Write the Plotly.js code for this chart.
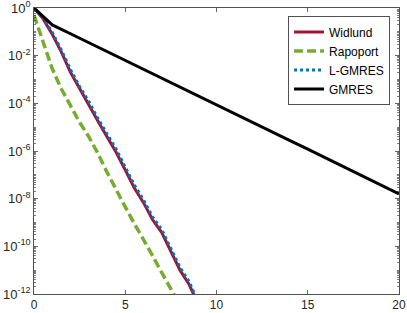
<!DOCTYPE html>
<html>
<head>
<meta charset="utf-8">
<script src="https://cdn.plot.ly/plotly-3.0.1.min.js"></script>
<style>
html,body{margin:0;padding:0;background:#fff;}
#chart{width:407px;height:313px;}
</style>
</head>
<body>
<div id="chart"></div>
<script>
// ---- data ----
var seriesNames = ["Widlund", "Rapoport", "L-GMRES", "GMRES"];

var widlundX = [0, 0.5, 1, 1.5, 2, 2.5, 3, 3.5, 4, 4.5, 5, 5.5, 6, 6.5, 7, 7.5, 8, 8.5, 8.8];
var widlundY = [1, 3.5e-1, 7.9e-2, 1.4e-2, 2.0e-3, 4.0e-4, 8.9e-5, 1.8e-5, 4.0e-6, 8.9e-7, 1.6e-7, 2.8e-8, 6.8e-9, 1.3e-9, 3.8e-10, 6.3e-11, 1.0e-11, 2.5e-12, 8.0e-13];

var rapoportX = [0, 0.5, 1, 1.5, 2, 2.5, 3, 3.5, 4, 4.5, 5, 5.5, 6, 6.5, 7, 7.5, 7.8];
var rapoportY = [5.0e-1, 4.0e-2, 2.8e-3, 4.0e-4, 7.9e-5, 1.6e-5, 4.0e-6, 7.9e-7, 1.3e-7, 2.2e-8, 4.5e-9, 8.9e-10, 2.0e-10, 4.0e-11, 7.9e-12, 1.6e-12, 6.3e-13];

var lgmresX = [0, 0.5, 1, 1.5, 2, 2.5, 3, 3.5, 4, 4.5, 5, 5.5, 6, 6.5, 7, 7.5, 8, 8.5, 8.85];
var lgmresY = [1, 3.8e-1, 9.5e-2, 1.7e-2, 2.6e-3, 5.0e-4, 1.2e-4, 2.3e-5, 5.2e-6, 1.2e-6, 2.1e-7, 3.7e-8, 8.9e-9, 1.7e-9, 5.0e-10, 8.3e-11, 1.3e-11, 3.3e-12, 8.0e-13];

var gmresX = [0, 1, 2, 3, 4, 5, 6, 7, 8, 9, 10, 11, 12, 13, 14, 15, 16, 17, 18, 19, 20];
var gmresY = [1, 1.95e-1, 8.3e-2, 3.5e-2, 1.48e-2, 6.3e-3, 2.7e-3, 1.12e-3, 4.8e-4, 2.0e-4, 8.5e-5, 3.6e-5, 1.5e-5, 6.6e-6, 2.8e-6, 1.2e-6, 5.0e-7, 2.1e-7, 9.0e-8, 3.8e-8, 1.6e-8];

var xTickVals = [0, 5, 10, 15, 20];
var yTickExps = [0, -2, -4, -6, -8, -10, -12];

// ---- build ----
var yTickVals = yTickExps.map(function(e){ return Math.pow(10, e); });
var yTickText = yTickExps.map(function(e){ return "10<sup>" + (e < 0 ? "-" + (-e) : e) + "</sup>"; });

var minorVals = [];
for (var d = -12; d < 0; d++) {
  for (var m = 1; m <= 9; m++) {
    if (m === 1 && d % 2 === 0) continue;
    minorVals.push(m * Math.pow(10, d));
  }
}

var axisColor = "#262626";
var traces = [
  {x: widlundX, y: widlundY, name: seriesNames[0], mode: "lines",
   line: {color: "#A2142F", width: 3}},
  {x: rapoportX, y: rapoportY, name: seriesNames[1], mode: "lines",
   line: {color: "#77AC30", width: 3.5, dash: "9px,4px"}},
  {x: lgmresX, y: lgmresY, name: seriesNames[2], mode: "lines",
   line: {color: "#0072BD", width: 3, dash: "3px,3px"}},
  {x: gmresX, y: gmresY, name: seriesNames[3], mode: "lines",
   line: {color: "#000000", width: 3}}
];

var layout = {
  width: 407, height: 313,
  margin: {l: 34, r: 8, t: 8, b: 19, pad: 0},
  paper_bgcolor: "#ffffff", plot_bgcolor: "#ffffff",
  font: {family: "Liberation Sans, Arial, sans-serif", size: 11, color: axisColor},
  showlegend: true,
  legend: {
    x: 0.976, y: 0.97, xanchor: "right", yanchor: "top",
    bgcolor: "#ffffff", bordercolor: axisColor, borderwidth: 0.8,
    font: {family: "Liberation Sans, Arial, sans-serif", size: 12, color: "#000000"},
    tracegroupgap: 0, itemwidth: 30
  },
  xaxis: {
    range: [0, 20], tickmode: "array", tickvals: xTickVals,
    ticks: "inside", ticklen: 4, tickwidth: 0.7, tickcolor: axisColor,
    showline: true, linecolor: axisColor, linewidth: 0.8, mirror: "ticks",
    showgrid: false, zeroline: false, tickfont: {size: 12},
    ticklabeloverflow: "allow"
  },
  yaxis: {
    type: "log", range: [-12, 0], tickmode: "array",
    tickvals: yTickVals, ticktext: yTickText,
    ticks: "inside", ticklen: 4, tickwidth: 0.7, tickcolor: axisColor,
    showline: true, linecolor: axisColor, linewidth: 0.8, mirror: "ticks",
    showgrid: false, zeroline: false, tickfont: {size: 13},
    ticklabeloverflow: "allow",
    minor: {tickmode: "array", tickvals: minorVals, ticks: "inside", ticklen: 2,
            tickwidth: 0.6, tickcolor: axisColor, showgrid: false}
  }
};

Plotly.newPlot("chart", traces, layout, {staticPlot: true, displayModeBar: false});
</script>
</body>
</html>
